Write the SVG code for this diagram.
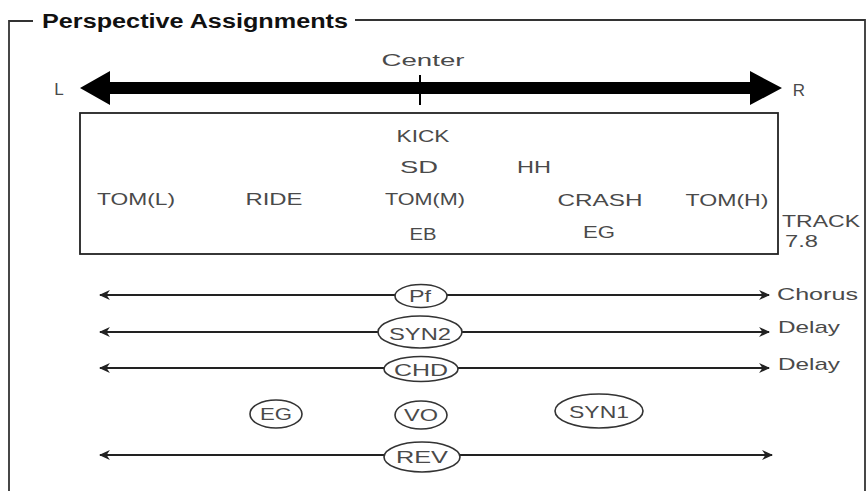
<svg xmlns="http://www.w3.org/2000/svg" width="867" height="491" viewBox="0 0 867 491">
<style>
.t{font-family:"Liberation Sans",Arial,sans-serif;font-size:17px;fill:#4a4a4a;text-anchor:middle}
.tl{font-family:"Liberation Sans",Arial,sans-serif;font-size:17px;fill:#4a4a4a}
.ln{stroke:#222;stroke-width:1.8;fill:none}
.el{stroke:#333;stroke-width:1.6;fill:#fff}
</style>
<defs>
<marker id="ah" viewBox="0 0 10 10" refX="9" refY="5" markerWidth="11" markerHeight="10" orient="auto-start-reverse" markerUnits="userSpaceOnUse" preserveAspectRatio="none">
<path d="M0,0 L10,5 L0,10 L3,5 Z" fill="#222"/>
</marker>
</defs>
<rect width="867" height="491" fill="#fff"/>
<g id="frame">
<path d="M9,491 V21 H33" stroke="#333" stroke-width="1.8" fill="none"/>
<path d="M355,20 H865 V491" stroke="#333" stroke-width="1.8" fill="none"/>
<text x="42" y="28" font-family="Liberation Sans,Arial,sans-serif" font-weight="bold" font-size="20" fill="#111" textLength="306" lengthAdjust="spacingAndGlyphs">Perspective Assignments</text>
</g>
<g id="axis">
<path d="M80,88 L110,71 L110,82 L750,82 L750,71 L782,88 L750,105 L750,94 L110,94 L110,105 Z" fill="#000"/>
<line x1="420" y1="75" x2="420" y2="105" stroke="#000" stroke-width="2"/>
<text class="t" x="423" y="66" textLength="83" lengthAdjust="spacingAndGlyphs">Center</text>
<text class="t" x="59" y="95">L</text>
<text class="t" x="799" y="96">R</text>
</g>
<g id="track-box">
<rect x="80" y="113" width="698" height="141" fill="none" stroke="#222" stroke-width="1.8"/>
<text class="t" x="423" y="142" textLength="53" lengthAdjust="spacingAndGlyphs">KICK</text>
<text class="t" x="419" y="173" textLength="38" lengthAdjust="spacingAndGlyphs">SD</text>
<text class="t" x="534" y="173" textLength="34" lengthAdjust="spacingAndGlyphs">HH</text>
<text class="t" x="136" y="205" textLength="78" lengthAdjust="spacingAndGlyphs">TOM(L)</text>
<text class="t" x="274" y="205" textLength="57" lengthAdjust="spacingAndGlyphs">RIDE</text>
<text class="t" x="425" y="205" textLength="80" lengthAdjust="spacingAndGlyphs">TOM(M)</text>
<text class="t" x="600" y="206" textLength="85" lengthAdjust="spacingAndGlyphs">CRASH</text>
<text class="t" x="727" y="206" textLength="83" lengthAdjust="spacingAndGlyphs">TOM(H)</text>
<text class="t" x="423" y="240" textLength="27" lengthAdjust="spacingAndGlyphs">EB</text>
<text class="t" x="599" y="238" textLength="32" lengthAdjust="spacingAndGlyphs">EG</text>
</g>
<g id="track-label">
<text class="tl" x="782" y="227" font-size="16" style="font-size:16px" textLength="78" lengthAdjust="spacingAndGlyphs">TRACK</text>
<text class="tl" x="785" y="247" style="font-size:16px" textLength="33" lengthAdjust="spacingAndGlyphs">7.8</text>
</g>
<g id="connectors">
<line class="ln" x1="420" y1="295" x2="100" y2="295" marker-end="url(#ah)"/>
<line class="ln" x1="420" y1="295" x2="769" y2="295" marker-end="url(#ah)"/>
<line class="ln" x1="420" y1="332" x2="100" y2="332" marker-end="url(#ah)"/>
<line class="ln" x1="420" y1="332" x2="769" y2="332" marker-end="url(#ah)"/>
<line class="ln" x1="420" y1="368" x2="100" y2="368" marker-end="url(#ah)"/>
<line class="ln" x1="420" y1="368" x2="769" y2="368" marker-end="url(#ah)"/>
<line class="ln" x1="420" y1="455" x2="100" y2="455" marker-end="url(#ah)"/>
<line class="ln" x1="420" y1="455" x2="772" y2="455" marker-end="url(#ah)"/>
</g>
<g id="pf">
<ellipse class="el" cx="421" cy="296" rx="26" ry="11.5"/>
<text class="t" x="420" y="302" textLength="22" lengthAdjust="spacingAndGlyphs">Pf</text>
<text class="tl" x="777" y="300" textLength="81" lengthAdjust="spacingAndGlyphs">Chorus</text>
</g>
<g id="syn2">
<ellipse class="el" cx="420" cy="332" rx="42" ry="16"/>
<text class="t" x="420" y="340" textLength="62" lengthAdjust="spacingAndGlyphs">SYN2</text>
<text class="tl" x="778" y="333" textLength="62" lengthAdjust="spacingAndGlyphs">Delay</text>
</g>
<g id="chd">
<ellipse class="el" cx="421" cy="369" rx="37" ry="12.5"/>
<text class="t" x="421" y="376" textLength="54" lengthAdjust="spacingAndGlyphs">CHD</text>
<text class="tl" x="778" y="370" textLength="62" lengthAdjust="spacingAndGlyphs">Delay</text>
</g>
<g id="eg">
<ellipse class="el" cx="276" cy="414" rx="26" ry="14"/>
<text class="t" x="276" y="420" textLength="32" lengthAdjust="spacingAndGlyphs">EG</text>
</g>
<g id="vo">
<ellipse class="el" cx="421" cy="415" rx="26" ry="14"/>
<text class="t" x="421" y="421" textLength="34" lengthAdjust="spacingAndGlyphs">VO</text>
</g>
<g id="syn1">
<ellipse class="el" cx="599" cy="411" rx="44" ry="17"/>
<text class="t" x="599" y="418" textLength="60" lengthAdjust="spacingAndGlyphs">SYN1</text>
</g>
<g id="rev">
<ellipse class="el" cx="422" cy="457" rx="38" ry="15"/>
<text class="t" x="422" y="463" textLength="52" lengthAdjust="spacingAndGlyphs">REV</text>
</g>
</svg>
